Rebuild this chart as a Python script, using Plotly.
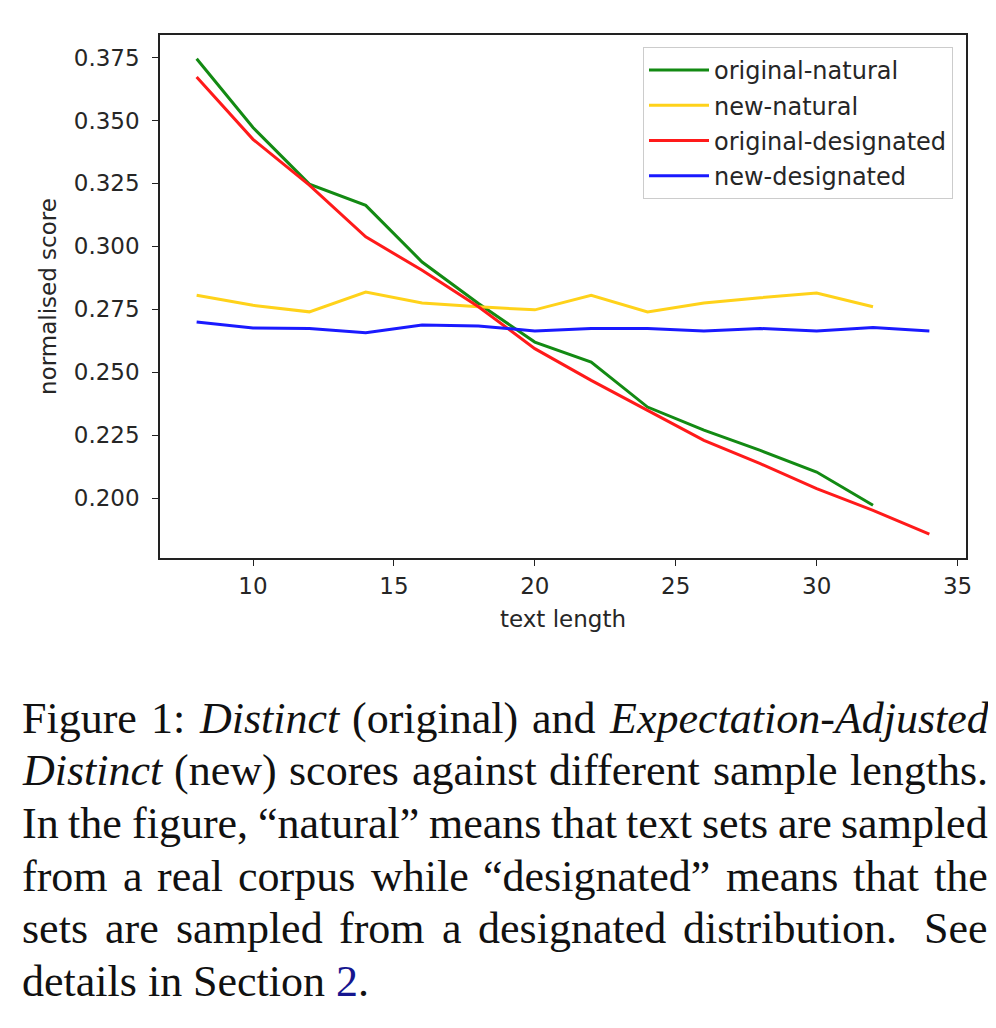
import plotly.graph_objects as go

# ---------------- data ----------------
text_length = [8, 10, 12, 14, 16, 18, 20, 22, 24, 26, 28, 30, 32, 34]

original_natural = [0.3745, 0.3472, 0.3247, 0.3163, 0.2938, 0.2773, 0.2620,
                    0.2541, 0.2362, 0.2270, 0.2190, 0.2104, 0.1972]
new_natural = [0.2806, 0.2766, 0.2740, 0.2819, 0.2775, 0.2760, 0.2748,
               0.2806, 0.2740, 0.2775, 0.2796, 0.2815, 0.2760]
original_designated = [0.3673, 0.3425, 0.3243, 0.3038, 0.2905, 0.2760, 0.2594,
                       0.2468, 0.2349, 0.2230, 0.2137, 0.2038, 0.1952, 0.1857]
new_designated = [0.2700, 0.2676, 0.2674, 0.2657, 0.2688, 0.2684, 0.2664,
                  0.2674, 0.2674, 0.2664, 0.2674, 0.2664, 0.2678, 0.2664]

series_names = ["original-natural", "new-natural", "original-designated", "new-designated"]
series_values = [original_natural, new_natural, original_designated, new_designated]
series_colors = ["#138a13", "#ffd21a", "#ff1a1a", "#1a1aff"]

x_ticks = [10, 15, 20, 25, 30, 35]
y_ticks = [0.200, 0.225, 0.250, 0.275, 0.300, 0.325, 0.350, 0.375]

x_label = "text length"
y_label = "normalised score"

# caption: list of lines, each a list of words, each word a list of (text, style)
caption_lines = [
    [[("Figure", "r")], [("1:", "r")], [("Distinct", "i")], [("(original)", "r")],
     [("and", "r")], [("Expectation-Adjusted", "i")]],
    [[("Distinct", "i")], [("(new)", "r")], [("scores", "r")], [("against", "r")],
     [("different", "r")], [("sample", "r")], [("lengths.", "r")]],
    [[("In", "r")], [("the", "r")], [("figure,", "r")], [("\u201cnatural\u201d", "r")],
     [("means", "r")], [("that", "r")], [("text", "r")], [("sets", "r")], [("are", "r")],
     [("sampled", "r")]],
    [[("from", "r")], [("a", "r")], [("real", "r")], [("corpus", "r")], [("while", "r")],
     [("\u201cdesignated\u201d", "r")], [("means", "r")], [("that", "r")], [("the", "r")]],
    [[("sets", "r")], [("are", "r")], [("sampled", "r")], [("from", "r")], [("a", "r")],
     [("designated", "r")], [("distribution.", "r")], [("See", "r")]],
    [[("details", "r")], [("in", "r")], [("Section", "r")], [("2", "link"), (".", "r")]],
]
caption_justified = [True, True, True, True, True, False]

# ---------------- figure geometry ----------------
OFF = 8                       # default page body margin
W, H = 996 - 2 * OFF, 1028 - 2 * OFF
PL, PR, PT, PB = 160 - OFF, 966 - OFF, 35 - OFF, 558 - OFF   # plot area (figure px)


def paper_x(page_px):
    return (page_px - OFF - PL) / (PR - PL)


def paper_y(page_py):
    return (PB - (page_py - OFF)) / (PB - PT)


# Times metrics (per 1000 em)
TIMES_R = {' ': 250, '(': 333, ')': 333, ',': 250, '-': 333, '.': 250, ':': 278,
           '1': 500, '2': 500, '\u201c': 444, '\u201d': 444,
           'D': 722, 'E': 611, 'F': 556, 'I': 333, 'S': 556, 'A': 722,
           'a': 444, 'b': 500, 'c': 444, 'd': 500, 'e': 444, 'f': 333, 'g': 500,
           'h': 500, 'i': 278, 'j': 278, 'k': 500, 'l': 278, 'm': 778, 'n': 500,
           'o': 500, 'p': 500, 'q': 500, 'r': 333, 's': 389, 't': 278, 'u': 500,
           'v': 500, 'w': 722, 'x': 500, 'y': 500, 'z': 444}
TIMES_I = {' ': 250, '-': 333, 'A': 611, 'D': 722, 'E': 611,
           'a': 500, 'c': 444, 'd': 500, 'e': 444, 'i': 278, 'j': 278, 'n': 500,
           'o': 500, 'p': 500, 's': 389, 't': 278, 'u': 500, 'x': 444}


def word_width(word, size):
    total = 0
    for txt, st in word:
        table = TIMES_I if st == "i" else TIMES_R
        total += sum(table.get(ch, 500) for ch in txt)
    return total * size / 1000.0


def word_html(word):
    out = ""
    for txt, st in word:
        if st == "i":
            out += "<i>" + txt + "</i>"
        elif st == "link":
            out += "<span style='color:#16168f'>" + txt + "</span>"
        else:
            out += txt
    return out


fig = go.Figure()

for name, vals, col in zip(series_names, series_values, series_colors):
    fig.add_trace(go.Scatter(
        x=text_length[:len(vals)], y=vals, mode="lines", name=name,
        legendgroup=name,
        line=dict(color=col, width=3),
    ))

all_vals = [v for s in series_values for v in s]
ymin, ymax = min(all_vals), max(all_vals)
ypad = 0.05 * (ymax - ymin)
xmin, xmax = min(text_length), max(text_length)
xpad = 0.05 * (xmax - xmin)

axis_font = dict(family="DejaVu Sans", size=23, color="#262626")

fig.update_xaxes(
    range=[xmin - xpad, xmax + xpad],
    tickmode="array", tickvals=x_ticks, ticktext=[str(t) for t in x_ticks],
    showgrid=False, zeroline=False,
    showline=True, linecolor="#222222", linewidth=1.5, mirror=True,
    ticks="outside", ticklen=6, tickwidth=1.3, tickcolor="#222222",
    tickfont=axis_font, ticklabelstandoff=1,
    title=dict(text=x_label, font=axis_font, standoff=13),
)
fig.update_yaxes(
    range=[ymin - ypad, ymax + ypad],
    tickmode="array", tickvals=y_ticks, ticktext=["%.3f" % t for t in y_ticks],
    showgrid=False, zeroline=False,
    showline=True, linecolor="#222222", linewidth=1.5, mirror=True,
    ticks="outside", ticklen=6, tickwidth=1.3, tickcolor="#222222",
    tickfont=axis_font, ticklabelstandoff=8,
    title=dict(text=y_label, font=axis_font, standoff=11),
)

# caption
CAP_SIZE = 44
CAP_LEFT, CAP_RIGHT = 22, 988          # page px
BASE0, LINE_GAP = 733.0, 52.7          # page px
annotations = []
for li, (words, just) in enumerate(zip(caption_lines, caption_justified)):
    widths = [word_width(w, CAP_SIZE) for w in words]
    weights = []
    for w in words[:-1]:
        last = w[-1][0]
        weights.append(1.6 if last.endswith(".") else 1.0)
    if just:
        extra = (CAP_RIGHT - CAP_LEFT) - sum(widths)
        unit = extra / sum(weights)
    else:
        unit = 0.25 * CAP_SIZE
    baseline = BASE0 + li * LINE_GAP
    ycenter = baseline - 0.3375 * CAP_SIZE
    xpos = CAP_LEFT
    for wi, w in enumerate(words):
        annotations.append(dict(
            x=paper_x(xpos), y=paper_y(ycenter), xref="paper", yref="paper",
            xanchor="left", yanchor="middle", showarrow=False,
            text=word_html(w), borderpad=0, borderwidth=0,
            font=dict(family="Liberation Serif", size=CAP_SIZE, color="#111111"),
        ))
        if wi < len(words) - 1:
            xpos += widths[wi] + unit * weights[wi]

fig.update_layout(
    width=W, height=H, autosize=False,
    margin=dict(l=PL, r=W - PR, t=PT, b=H - PB, pad=0),
    paper_bgcolor="white", plot_bgcolor="white",
    font=dict(family="DejaVu Sans", color="#262626"),
    showlegend=True,
    legend=dict(
        x=paper_x(953), y=paper_y(47), xanchor="right", yanchor="top",
        bgcolor="white", bordercolor="#cccccc", borderwidth=1,
        font=dict(family="DejaVu Sans", size=24, color="#262626"),
        tracegroupgap=1, itemwidth=60,
    ),
    annotations=annotations,
)

fig.write_html("out.html")
